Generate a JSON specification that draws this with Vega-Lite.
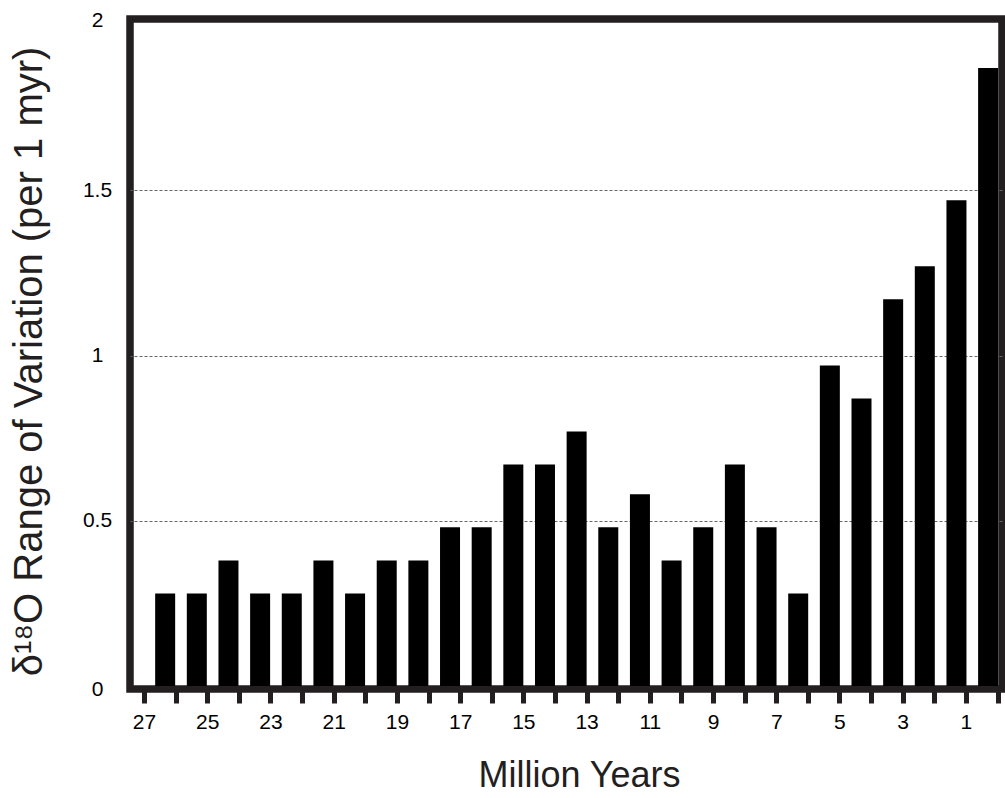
{
  "$schema": "https://vega.github.io/schema/vega-lite/v6.json",
  "width": 872,
  "height": 670,
  "autosize": {"type": "none"},
  "padding": {"left": 130, "top": 19, "right": 3, "bottom": 109},
  "background": "white",
  "config": {
    "view": {"stroke": "#231f20", "strokeWidth": 7.5},
    "font": "Liberation Sans"
  },
  "data": {
    "values": [
      {"age": 26.5, "range": 0.28},
      {"age": 25.5, "range": 0.28},
      {"age": 24.5, "range": 0.38},
      {"age": 23.5, "range": 0.28},
      {"age": 22.5, "range": 0.28},
      {"age": 21.5, "range": 0.38},
      {"age": 20.5, "range": 0.28},
      {"age": 19.5, "range": 0.38},
      {"age": 18.5, "range": 0.38},
      {"age": 17.5, "range": 0.48},
      {"age": 16.5, "range": 0.48},
      {"age": 15.5, "range": 0.67},
      {"age": 14.5, "range": 0.67},
      {"age": 13.5, "range": 0.77},
      {"age": 12.5, "range": 0.48},
      {"age": 11.5, "range": 0.58},
      {"age": 10.5, "range": 0.38},
      {"age": 9.5, "range": 0.48},
      {"age": 8.5, "range": 0.67},
      {"age": 7.5, "range": 0.48},
      {"age": 6.5, "range": 0.28},
      {"age": 5.5, "range": 0.97},
      {"age": 4.5, "range": 0.87},
      {"age": 3.5, "range": 1.17},
      {"age": 2.5, "range": 1.27},
      {"age": 1.5, "range": 1.47},
      {"age": 0.5, "range": 1.87}
    ]
  },
  "layer": [
    {
      "mark": {"type": "bar", "size": 20, "color": "#000000"},
      "encoding": {
        "x": {
          "field": "age",
          "type": "quantitative",
          "scale": {"domain": [0.219, 27.453], "reverse": true, "nice": false, "zero": false},
          "axis": null
        },
        "y": {
          "field": "range",
          "type": "quantitative",
          "scale": {"domain": [-0.0091, 2.0182], "nice": false, "zero": false},
          "axis": {
            "values": [0, 0.5, 1, 1.5, 2],
            "format": "~g",
            "grid": true,
            "gridDash": [3, 2],
            "gridColor": "#666666",
            "gridWidth": 1,
            "gridOpacity": {"condition": {"test": "datum.value == 0 || datum.value == 2", "value": 0}, "value": 1},
            "ticks": false,
            "domain": false,
            "labelFont": "Liberation Sans",
            "labelFontSize": 21,
            "labelColor": "#000000",
            "labelAlign": "center",
            "labelPadding": 33,
            "labelOffset": {"condition": [{"test": "datum.value == 0", "value": 4}, {"test": "datum.value == 2", "value": -5}], "value": 0},
            "title": "δ¹⁸O Range of Variation (per 1 myr)",
            "titleFont": "Liberation Sans",
            "titleFontSize": 40,
            "titleFontWeight": "normal",
            "titleColor": "#231f20",
            "titleAngle": -90,
            "titleAlign": "center",
            "titleBaseline": "alphabetic",
            "titleX": -89,
            "titleY": 342
          }
        }
      }
    },
    {
      "mark": {"type": "tick", "opacity": 0},
      "encoding": {
        "x": {
          "field": "age",
          "type": "quantitative",
          "scale": {"domain": [-0.142, 27.443], "reverse": true, "nice": false, "zero": false},
          "axis": {
            "orient": "bottom",
            "values": [0, 1, 2, 3, 4, 5, 6, 7, 8, 9, 10, 11, 12, 13, 14, 15, 16, 17, 18, 19, 20, 21, 22, 23, 24, 25, 26, 27],
            "labelExpr": "datum.value % 2 == 1 ? datum.label : ''",
            "grid": false,
            "domain": false,
            "ticks": true,
            "tickSize": 14,
            "tickWidth": 5,
            "tickColor": "#231f20",
            "labelFont": "Liberation Sans",
            "labelFontSize": 21,
            "labelColor": "#000000",
            "labelPadding": 8,
            "labelFlush": false,
            "labelOverlap": false,
            "title": "Million Years",
            "titleFont": "Liberation Sans",
            "titleFontSize": 36,
            "titleFontWeight": "normal",
            "titleColor": "#231f20",
            "titleAlign": "center",
            "titleBaseline": "alphabetic",
            "titleX": 449,
            "titleY": 97
          }
        }
      }
    }
  ],
  "resolve": {"scale": {"x": "independent"}, "axis": {"x": "independent"}}
}
